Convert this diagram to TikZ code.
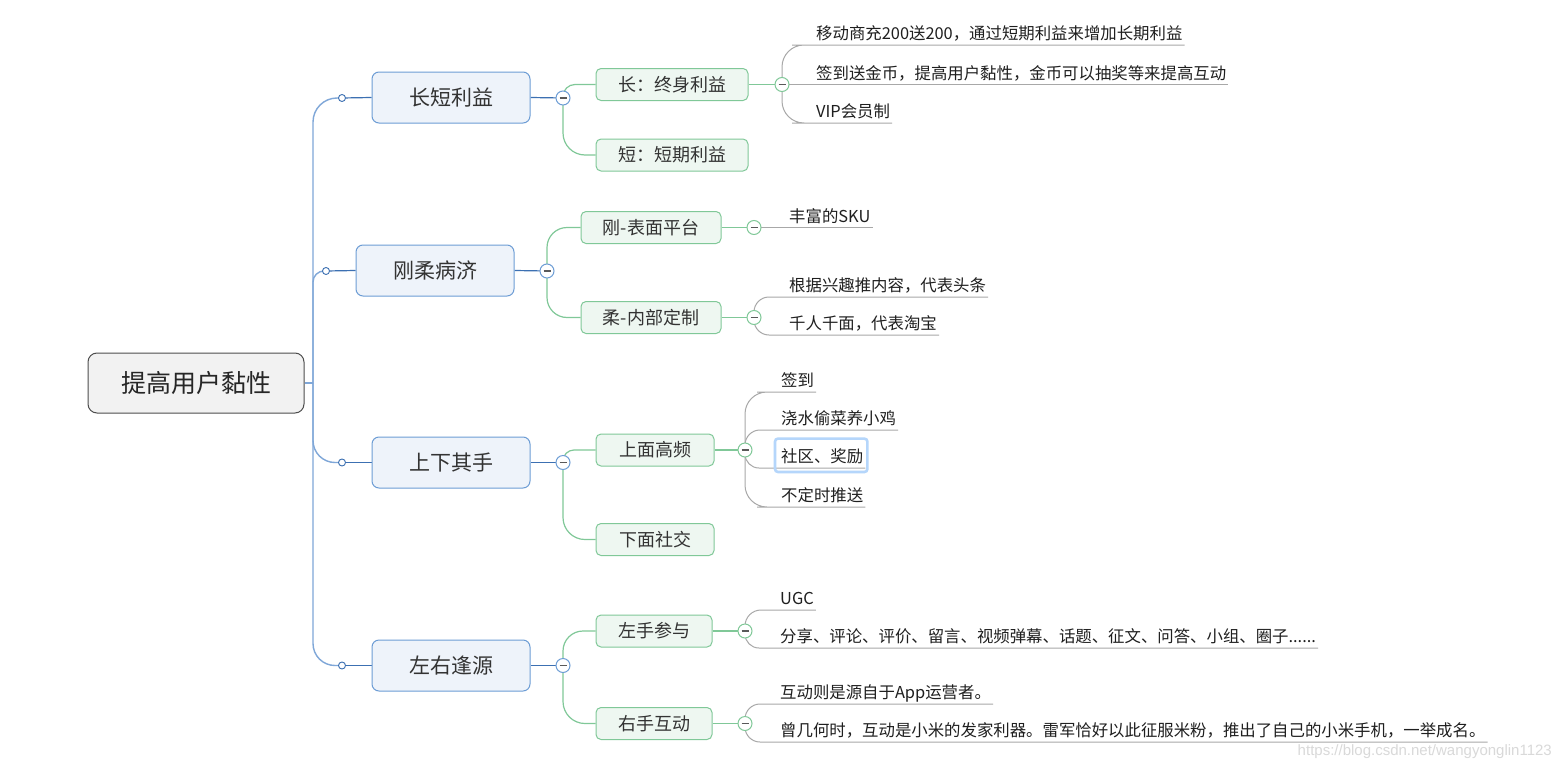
\documentclass[tikz,border=0pt]{standalone}
\usepackage{fontspec}
\setmainfont{Noto Sans CJK SC}
\newfontfamily\wmfont{Liberation Sans}
\usetikzlibrary{backgrounds}
\definecolor{trunkc}{HTML}{7FA7D8}
\definecolor{bluel}{HTML}{3C70B2}
\definecolor{blueb}{HTML}{6D9DD5}
\definecolor{bluef}{HTML}{EEF3FA}
\definecolor{greenl}{HTML}{80C898}
\definecolor{greenf}{HTML}{EEF7F1}
\definecolor{grayl}{HTML}{A8A8A8}
\definecolor{rootb}{HTML}{4D4D4D}
\definecolor{rootf}{HTML}{F2F2F2}
\definecolor{hil}{HTML}{B5D6FB}
\begin{document}
\begin{tikzpicture}[x=1pt,y=-1pt,
  rootbox/.style={draw=rootb, fill=rootf, line width=1pt, rounded corners=9pt,
    minimum width=216pt, minimum height=60pt, inner sep=0pt,
    font=\fontsize{25}{30}\selectfont, text=black!85},
  branchbox/.style={draw=blueb, fill=bluef, line width=1pt, rounded corners=7pt,
    minimum width=158pt, minimum height=51pt, inner sep=0pt,
    font=\fontsize{21}{25}\selectfont, text=black!80},
  subbox/.style={draw=greenl, fill=greenf, line width=1pt, rounded corners=5pt,
    minimum height=32pt, inner sep=0pt,
    font=\fontsize{18}{22}\selectfont, text=black!80},
  leaf/.style={anchor=south west, inner xsep=2pt, inner ysep=0pt,
    text height=12pt, text depth=5pt, font=\fontsize{16.4}{19}\selectfont, text=black!88},
  tdot/.style={circle, draw=bluel, fill=white, line width=0.9pt, minimum size=7pt, inner sep=0pt},
  cmin/.style={circle, fill=white, line width=1pt, minimum size=14pt, inner sep=0pt,
    path picture={\draw[line width=1.4pt, black!65]
      ([xshift=-3.5pt]path picture bounding box.center) -- ([xshift=3.5pt]path picture bounding box.center);}},
  trunkline/.style={draw=trunkc, line width=1.4pt},
  bline/.style={draw=bluel, line width=1.2pt},
  gline/.style={draw=greenl, line width=1.2pt},
  lline/.style={draw=grayl, line width=1pt}
]
\useasboundingbox (0,0) rectangle (1560,771);

% root and branches
\node[rootbox] (root) at (196,383) {提高用户黏性};
\coordinate (tr) at (313,383);

\node[branchbox] (b1) at (451,97.5) {长短利益};
\node[branchbox] (b2) at (435,270.5) {刚柔病济};
\node[branchbox] (b3) at (451,462.5) {上下其手};
\node[branchbox] (b4) at (451,665.5) {左右逢源};

\node[tdot] (d1) at (342,98) {};
\node[tdot] (d2) at (326,271) {};
\node[tdot] (d3) at (342,462.5) {};
\node[tdot] (d4) at (342,665.5) {};

\node[cmin, draw=blueb] (c1) at (563,98) {};
\node[cmin, draw=blueb] (c2) at (547,271) {};
\node[cmin, draw=blueb] (c3) at (563,462.5) {};
\node[cmin, draw=blueb] (c4) at (563,665.5) {};

% sub branches
\node[subbox, minimum width=152pt] (s11) at (672,84.5) {长：终身利益};
\node[subbox, minimum width=152pt] (s12) at (672,155) {短：短期利益};
\node[subbox, minimum width=140pt] (s21) at (651,227.5) {刚-表面平台};
\node[subbox, minimum width=140pt] (s22) at (651,317.5) {柔-内部定制};
\node[subbox, minimum width=118pt] (s31) at (655,450) {上面高频};
\node[subbox, minimum width=118pt] (s32) at (655,539.5) {下面社交};
\node[subbox, minimum width=116pt] (s41) at (654,631) {左手参与};
\node[subbox, minimum width=116pt] (s42) at (654,723.5) {右手互动};

\node[cmin, draw=greenl] (c11) at (782,84.5) {};
\node[cmin, draw=greenl] (c21) at (754,227.5) {};
\node[cmin, draw=greenl] (c22) at (754,317.5) {};
\node[cmin, draw=greenl] (c31) at (745,450) {};
\node[cmin, draw=greenl] (c41) at (745,631) {};
\node[cmin, draw=greenl] (c42) at (745,723.5) {};

% leaves
\node[leaf] (l111) at (814,45) {移动商充200送200，通过短期利益来增加长期利益};
\node[leaf] (l112) at (814,84.5) {签到送金币，提高用户黏性，金币可以抽奖等来提高互动};
\node[leaf] (l113) at (814,123) {VIP会员制};
\node[leaf] (l211) at (787,227.5) {丰富的SKU};
\node[leaf] (l221) at (787,297) {根据兴趣推内容，代表头条};
\node[leaf] (l222) at (787,335) {千人千面，代表淘宝};
\node[leaf] (l311) at (779,392) {签到};
\node[leaf] (l312) at (779,430) {浇水偷菜养小鸡};
\node[leaf] (l313) at (779,468) {社区、奖励};
\node[leaf] (l314) at (779,507) {不定时推送};
\node[leaf] (l411) at (778,610) {UGC};
\node[leaf] (l412) at (778,648) {分享、评论、评价、留言、视频弹幕、话题、征文、问答、小组、圈子......};
\node[leaf] (l421) at (778,704) {互动则是源自于App运营者。};
\node[leaf] (l422) at (778,742) {曾几何时，互动是小米的发家利器。雷军恰好以此征服米粉，推出了自己的小米手机，一举成名。};

% highlight around selected leaf
\draw[hil, line width=2.6pt, rounded corners=3pt]
  ([shift={(-4pt,12pt)}]l313.north west) rectangle ([shift={(2pt,-4pt)}]l313.south east);

\node[anchor=east, inner sep=0pt, font=\wmfont\fontsize{15}{18}\selectfont, text=black!15] (wm) at (1552,752) {https://blog.csdn.net/wangyonglin1123};

\begin{scope}[on background layer]
  \fill[white] (0,0) rectangle (1560,771);
  % trunk
  \draw[trunkline] (root.east) -- (tr);
  \draw[trunkline, rounded corners=24pt] (tr) |- (d1.center);
  \draw[trunkline, rounded corners=11pt] (tr) |- (d2.center);
  \draw[trunkline, rounded corners=22pt] (tr) |- (d3.center);
  \draw[trunkline, rounded corners=22pt] (tr) |- (d4.center);
  % dots to boxes to collapse
  \foreach \i in {1,2,3,4}{
    \draw[bline] (d\i) -- (b\i.west);
    \draw[bline] (b\i.east) -- (c\i.center);
  }
  % green
  \draw[gline, rounded corners=12pt] (c1.center) |- (s11.west);
  \draw[gline, rounded corners=22pt] (c1.center) |- (s12.west);
  \draw[gline, rounded corners=20pt] (c2.center) |- (s21.west);
  \draw[gline, rounded corners=20pt] (c2.center) |- (s22.west);
  \draw[gline, rounded corners=11pt] (c3.center) |- (s31.west);
  \draw[gline, rounded corners=22pt] (c3.center) |- (s32.west);
  \draw[gline, rounded corners=20pt] (c4.center) |- (s41.west);
  \draw[gline, rounded corners=22pt] (c4.center) |- (s42.west);
  \draw[gline] (s11.east) -- (c11.center);
  \draw[gline] (s21.east) -- (c21.center);
  \draw[gline] (s22.east) -- (c22.center);
  \draw[gline] (s31.east) -- (c31.center);
  \draw[gline] (s41.east) -- (c41.center);
  \draw[gline] (s42.east) -- (c42.center);
  % gray leaf lines
  \draw[lline, rounded corners=22pt] (c11.center) |- (l111.south west) -- (l111.south east);
  \draw[lline] (c11.center) -- (l112.south west) -- (l112.south east);
  \draw[lline, rounded corners=22pt] (c11.center) |- (l113.south west) -- (l113.south east);
  \draw[lline] (c21.center) -- (l211.south west) -- (l211.south east);
  \draw[lline, rounded corners=15pt] (c22.center) |- (l221.south west) -- (l221.south east);
  \draw[lline, rounded corners=15pt] (c22.center) |- (l222.south west) -- (l222.south east);
  \draw[lline, rounded corners=22pt] (c31.center) |- (l311.south west) -- (l311.south east);
  \draw[lline, rounded corners=15pt] (c31.center) |- (l312.south west) -- (l312.south east);
  \draw[lline, rounded corners=14pt] (c31.center) |- (l313.south west) -- (l313.south east);
  \draw[lline, rounded corners=22pt] (c31.center) |- (l314.south west) -- (l314.south east);
  \draw[lline, rounded corners=16pt] (c41.center) |- (l411.south west) -- (l411.south east);
  \draw[lline, rounded corners=14pt] (c41.center) |- (l412.south west) -- (l412.south east);
  \draw[lline, rounded corners=15pt] (c42.center) |- (l421.south west) -- (l421.south east);
  \draw[lline, rounded corners=15pt] (c42.center) |- (l422.south west) -- (l422.south east);
\end{scope}
\end{tikzpicture}
\end{document}
